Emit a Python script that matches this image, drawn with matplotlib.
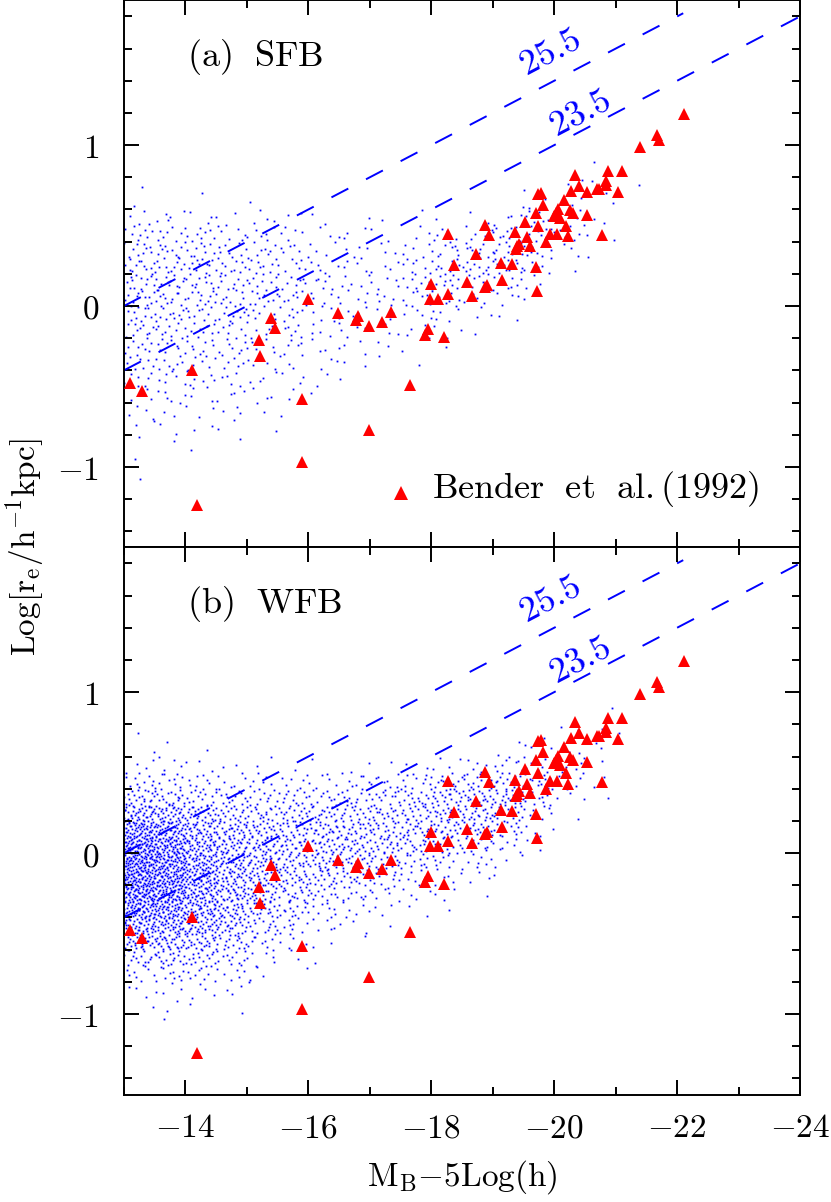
import numpy as np
import matplotlib.pyplot as plt
from matplotlib.ticker import MultipleLocator

plt.rcParams['mathtext.fontset'] = 'cm'
plt.rcParams['lines.scale_dashes'] = False

# Bender et al. (1992) ellipticals: M_B - 5log(h) and log r_e
bender_mag = [-13.10, -13.30, -14.10, -14.19, -15.20, -15.22, -15.40, -15.45, -15.90, -15.90,
              -16.00, -16.49, -16.80, -16.77, -16.99, -16.99, -17.20, -17.35, -17.66, -17.94,
              -17.89, -18.20, -17.99, -17.98, -18.11, -18.28, -18.37, -18.58, -18.67, -18.88,
              -18.90, -19.15, -19.14, -19.31, -18.27, -18.88, -18.94, -18.72, -19.37, -19.38,
              -19.40, -19.43, -19.55, -19.60, -19.52, -19.72, -19.70, -19.74, -19.87, -19.94,
              -20.05, -20.22, -20.20, -19.71, -19.81, -19.74, -19.79, -19.99, -20.03, -20.06,
              -20.10, -20.16, -20.25, -20.31, -20.28, -20.40, -20.34, -20.53, -20.54, -20.70,
              -20.73, -20.85, -20.84, -20.87, -21.04, -21.11, -20.77, -21.40, -21.67, -21.71,
              -22.11]
bender_logre = [-0.48, -0.53, -0.40, -1.24, -0.21, -0.31, -0.075, -0.135, -0.58, -0.97,
                0.045, -0.045, -0.06, -0.085, -0.125, -0.77, -0.10, -0.04, -0.49, -0.14,
                -0.18, -0.19, 0.134, 0.045, 0.045, 0.075, 0.255, 0.15, 0.063, 0.118,
                0.13, 0.163, 0.267, 0.263, 0.447, 0.503, 0.443, 0.325, 0.457, 0.354,
                0.37, 0.383, 0.428, 0.375, 0.52, 0.095, 0.242, 0.50, 0.40, 0.447,
                0.447, 0.432, 0.50, 0.578, 0.63, 0.696, 0.70, 0.557, 0.581, 0.606,
                0.55, 0.66, 0.598, 0.581, 0.716, 0.747, 0.816, 0.565, 0.708, 0.727,
                0.73, 0.778, 0.753, 0.842, 0.708, 0.84, 0.443, 0.99, 1.064, 1.029,
                1.192]

# Model galaxies: number of dots per cell.
# columns: 0.5 mag bins from -13 to -22, rows: 0.1 dex bins from 0.9 down to -1.1
cell_dmag = 0.5
cell_dlog = 0.1
grid_mag0 = -13.0
grid_log0 = 0.9
sfb_counts = [
    [0, 0, 0, 0, 0, 0, 0, 0, 0, 0, 0, 0, 0, 0, 0, 1, 0, 0],
    [1, 0, 0, 0, 0, 0, 0, 0, 0, 0, 0, 0, 0, 1, 2, 2, 1, 0],
    [1, 0, 1, 0, 1, 0, 0, 0, 0, 0, 0, 0, 1, 3, 3, 2, 0, 0],
    [4, 5, 3, 3, 4, 2, 2, 1, 1, 1, 1, 2, 4, 6, 5, 2, 0, 0],
    [8, 8, 8, 6, 6, 5, 3, 3, 2, 3, 5, 6, 10, 10, 5, 2, 0, 0],
    [10, 10, 9, 8, 8, 6, 4, 4, 3, 5, 9, 10, 12, 9, 3, 1, 0, 0],
    [12, 12, 11, 10, 9, 7, 5, 5, 4, 7, 10, 12, 12, 6, 1, 0, 0, 0],
    [12, 12, 11, 10, 9, 8, 6, 5, 5, 8, 10, 10, 8, 3, 0, 0, 0, 0],
    [12, 12, 11, 10, 9, 8, 6, 5, 5, 7, 8, 6, 4, 1, 0, 0, 0, 0],
    [11, 11, 10, 9, 8, 7, 5, 5, 4, 5, 5, 3, 2, 0, 0, 0, 0, 0],
    [10, 10, 9, 8, 7, 6, 5, 4, 3, 3, 3, 1, 0, 0, 0, 0, 0, 0],
    [9, 9, 8, 7, 6, 5, 4, 3, 2, 2, 1, 0, 0, 0, 0, 0, 0, 0],
    [8, 8, 7, 6, 5, 4, 3, 2, 1, 1, 0, 0, 0, 0, 0, 0, 0, 0],
    [6, 6, 6, 5, 4, 3, 2, 1, 0, 0, 0, 0, 0, 0, 0, 0, 0, 0],
    [5, 5, 4, 4, 3, 2, 1, 0, 0, 0, 0, 0, 0, 0, 0, 0, 0, 0],
    [4, 3, 3, 3, 2, 1, 0, 0, 0, 0, 0, 0, 0, 0, 0, 0, 0, 0],
    [2, 2, 2, 2, 1, 0, 0, 0, 0, 0, 0, 0, 0, 0, 0, 0, 0, 0],
    [1, 1, 1, 1, 0, 0, 0, 0, 0, 0, 0, 0, 0, 0, 0, 0, 0, 0],
    [1, 0, 0, 0, 0, 0, 0, 0, 0, 0, 0, 0, 0, 0, 0, 0, 0, 0],
    [1, 0, 0, 0, 0, 0, 0, 0, 0, 0, 0, 0, 0, 0, 0, 0, 0, 0],
]
wfb_counts = [
    [0, 0, 0, 0, 0, 0, 0, 0, 0, 0, 0, 0, 0, 0, 0, 1, 0, 0],
    [1, 0, 0, 0, 0, 0, 0, 0, 0, 0, 0, 0, 0, 1, 2, 2, 1, 0],
    [1, 1, 1, 0, 0, 0, 0, 0, 0, 0, 0, 0, 2, 4, 4, 2, 0, 0],
    [4, 4, 3, 2, 2, 1, 1, 2, 1, 2, 4, 5, 8, 10, 6, 2, 0, 0],
    [10, 10, 8, 6, 6, 6, 6, 7, 8, 10, 14, 14, 16, 14, 6, 2, 0, 0],
    [20, 18, 14, 12, 12, 12, 12, 13, 14, 16, 20, 20, 20, 12, 4, 1, 0, 0],
    [40, 34, 25, 20, 18, 18, 18, 18, 18, 18, 22, 22, 18, 8, 1, 0, 0, 0],
    [60, 50, 35, 28, 24, 22, 22, 22, 20, 20, 20, 18, 12, 4, 0, 0, 0, 0],
    [75, 62, 42, 32, 27, 25, 24, 22, 20, 18, 14, 12, 7, 2, 0, 0, 0, 0],
    [80, 68, 46, 34, 28, 24, 22, 20, 16, 12, 10, 7, 3, 0, 0, 0, 0, 0],
    [80, 68, 48, 34, 28, 22, 18, 15, 11, 8, 6, 3, 1, 0, 0, 0, 0, 0],
    [75, 65, 46, 33, 25, 18, 14, 10, 7, 4, 3, 1, 0, 0, 0, 0, 0, 0],
    [60, 55, 42, 30, 20, 14, 9, 6, 3, 2, 1, 0, 0, 0, 0, 0, 0, 0],
    [45, 42, 35, 25, 15, 9, 5, 3, 1, 0, 0, 0, 0, 0, 0, 0, 0, 0],
    [30, 30, 26, 18, 10, 5, 2, 1, 0, 0, 0, 0, 0, 0, 0, 0, 0, 0],
    [16, 18, 16, 12, 6, 2, 1, 0, 0, 0, 0, 0, 0, 0, 0, 0, 0, 0],
    [8, 10, 9, 6, 3, 1, 0, 0, 0, 0, 0, 0, 0, 0, 0, 0, 0, 0],
    [3, 4, 4, 3, 1, 0, 0, 0, 0, 0, 0, 0, 0, 0, 0, 0, 0, 0],
    [1, 2, 1, 1, 0, 0, 0, 0, 0, 0, 0, 0, 0, 0, 0, 0, 0, 0],
    [0, 1, 0, 0, 0, 0, 0, 0, 0, 0, 0, 0, 0, 0, 0, 0, 0, 0],
]

# lines of constant surface brightness (end points)
sb_labels = ['25.5', '23.5']
sb_mag = [[-13.0, -22.1], [-13.0, -24.0]]
sb_logre = [[0.0, 1.82], [-0.4, 1.8]]
sb_label_pos = [(-19.93, 1.575), (-20.42, 1.195)]

panel_names = ['(a)\\ \\ SFB', '(b)\\ \\ WFB']


def halton(k, base):
    f, r = 1.0, 0.0
    while k > 0:
        f /= base
        r += f * (k % base)
        k //= base
    return r


def cloud_points(counts, start):
    # spread each cell's dots over the cell with a Halton sequence (deterministic)
    xs, ys = [], []
    k = start
    for r, row in enumerate(counts):
        top = grid_log0 - cell_dlog * r
        for c, n in enumerate(row):
            left = grid_mag0 - cell_dmag * c
            for i in range(n):
                k += 7
                xs.append(left - cell_dmag * halton(k, 2))
                ys.append(top - cell_dlog * halton(k, 3))
    return xs, ys


fig = plt.figure(figsize=(8.31, 12.02), dpi=100)
ax1 = fig.add_axes([0.1492, 0.5447, 0.8135, 0.4550])
ax2 = fig.add_axes([0.1492, 0.0894, 0.8135, 0.4553])

for ax, counts, name, start in zip([ax1, ax2], [sfb_counts, wfb_counts], panel_names, [11, 20000]):
    cx, cy = cloud_points(counts, start)
    ax.plot(cx, cy, ls='none', marker='s', ms=1.3, mew=0, color='#0000ff', zorder=1)

    for mags, logs in zip(sb_mag, sb_logre):
        ax.plot(mags, logs, color='#0000ff', lw=1.4, dashes=(13.7, 14.4), zorder=2)
    for lab, (lx, ly) in zip(sb_labels, sb_label_pos):
        ax.text(lx, ly, '$' + lab + '$', color='#0000ff', fontsize=26, rotation=27.6,
                ha='center', va='center', rotation_mode='anchor')

    ax.plot(bender_mag, bender_logre, ls='none', marker='^', ms=8.5, mew=0,
            color='#ff0000', zorder=3)

    ax.text(-14.02, 1.55, '$\\mathrm{' + name + '}$', fontsize=26, ha='left', va='center')

    ax.set_xlim(-13, -24)
    ax.set_ylim(-1.5, 1.9)
    ax.xaxis.set_major_locator(MultipleLocator(2))
    ax.xaxis.set_minor_locator(MultipleLocator(1))
    ax.set_yticks([-1, 0, 1])
    ax.set_yticklabels(['$-1$', '$0$', '$1$'])
    ax.yaxis.set_minor_locator(MultipleLocator(0.2))
    ax.tick_params(which='both', direction='in', top=True, right=True, width=1.4,
                   labelsize=24, pad=18)
    ax.tick_params(which='major', length=10.8)
    ax.tick_params(which='minor', length=5.8)
    for sp in ax.spines.values():
        sp.set_linewidth(1.4)

# legend entry in the top panel
ax1.plot([-17.51], [-1.16], ls='none', marker='^', ms=9.5, mew=0, color='#ff0000')
ax1.text(-18.02, -1.14, '$\\mathrm{Bender\\ \\ et\\ \\ al.(1992)}$', fontsize=26,
         ha='left', va='center')

ax1.tick_params(labelbottom=False)
xt = [-14, -16, -18, -20, -22, -24]
ax2.set_xticks(xt)
ax2.set_xticklabels(['$' + str(v) + '$' for v in xt])
ax2.tick_params(axis='x', pad=12)

fig.text(0.029, 0.545, '$\\mathrm{Log[r_e/h^{-1}kpc]}$', rotation=90, fontsize=24,
         ha='center', va='center')
fig.text(0.556, 0.021, '$\\mathrm{M_B{-}5Log(h)}$', fontsize=24, ha='center', va='center')

fig.savefig('out.png', dpi=100)
